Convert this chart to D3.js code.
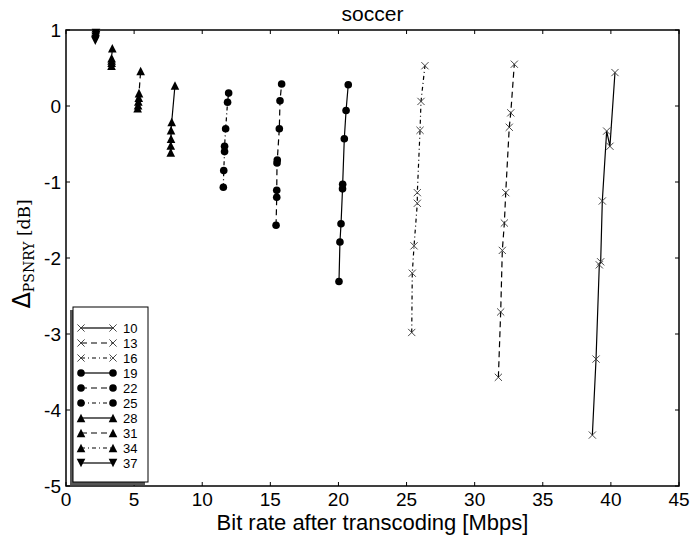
<!DOCTYPE html>
<html>
<head>
<meta charset="utf-8">
<script src="https://cdn.jsdelivr.net/npm/d3@7"></script>
<style>
  body { margin: 0; background: #fff; }
  svg { display: block; font-family: "Liberation Sans", Arial, sans-serif; }
</style>
</head>
<body>
<svg id="chart" width="692" height="540"></svg>
<script>
// QP values shown in the legend
const qps = [10, 13, 16, 19, 22, 25, 28, 31, 34, 37];

// bit rate [Mbps] and delta PSNR-Y [dB] per QP
const rate10 = [38.64, 38.91, 39.15, 39.25, 39.37, 39.69, 39.93, 40.30];
const dpsnr10 = [-4.33, -3.33, -2.09, -2.05, -1.25, -0.33, -0.53, 0.44];
const rate13 = [31.74, 31.91, 32.03, 32.18, 32.28, 32.54, 32.65, 32.91];
const dpsnr13 = [-3.57, -2.71, -1.90, -1.54, -1.14, -0.28, -0.09, 0.55];
const rate16 = [25.38, 25.42, 25.55, 25.79, 25.79, 25.99, 26.06, 26.35];
const dpsnr16 = [-2.98, -2.20, -1.84, -1.28, -1.14, -0.32, 0.06, 0.53];
const rate19 = [20.04, 20.11, 20.19, 20.30, 20.31, 20.43, 20.56, 20.72];
const dpsnr19 = [-2.31, -1.79, -1.55, -1.09, -1.03, -0.43, -0.06, 0.28];
const rate22 = [15.42, 15.47, 15.47, 15.49, 15.51, 15.66, 15.71, 15.83];
const dpsnr22 = [-1.57, -1.20, -1.11, -0.75, -0.71, -0.30, 0.07, 0.29];
const rate25 = [11.55, 11.58, 11.64, 11.64, 11.72, 11.86, 11.94];
const dpsnr25 = [-1.07, -0.85, -0.60, -0.53, -0.30, 0.05, 0.17];
const rate28 = [7.69, 7.69, 7.71, 7.71, 7.76, 8.00];
const dpsnr28 = [-0.61, -0.52, -0.43, -0.32, -0.21, 0.27];
const rate31 = [5.26, 5.29, 5.31, 5.34, 5.36, 5.48];
const dpsnr31 = [-0.03, 0.01, 0.06, 0.11, 0.17, 0.46];
const rate34 = [3.34, 3.35, 3.35, 3.35, 3.40];
const dpsnr34 = [0.53, 0.57, 0.60, 0.63, 0.76];
const rate37 = [2.15, 2.17, 2.18, 2.20, 2.20];
const dpsnr37 = [0.86, 0.88, 0.91, 0.93, 0.96];

const xTicks = [0, 5, 10, 15, 20, 25, 30, 35, 40, 45];
const yTicks = [-5, -4, -3, -2, -1, 0, 1];

const rates = [rate10, rate13, rate16, rate19, rate22, rate25, rate28, rate31, rate34, rate37];
const dpsnrs = [dpsnr10, dpsnr13, dpsnr16, dpsnr19, dpsnr22, dpsnr25, dpsnr28, dpsnr31, dpsnr34, dpsnr37];

// marker + line style per series (matplotlib style cycle of the figure)
const markerOf = ["x", "x", "x", "o", "o", "o", "^", "^", "^", "v"];
const dashOf = [null, "6,4", "4,3,1,3", null, "6,4", "4,3,1,3", null, "6,4", "4,3,1,3", null];

let series = qps.map(function (q, i) {
    return {
        name: q,
        marker: markerOf[i],
        dash: dashOf[i],
        points: rates[i].map(function (r, j) { return [r, dpsnrs[i][j]]; })
    };
});

let margin = {left: 66, top: 30, right: 13, bottom: 54};
let width = 692 - margin.left - margin.right;
let height = 540 - margin.top - margin.bottom;

let svg = d3.select("#chart");
let g = svg.append("g").attr("transform", `translate(${margin.left},${margin.top})`);

let x = d3.scaleLinear().domain([0, 45]).range([0, width]);
let y = d3.scaleLinear().domain([-5, 1]).range([height, 0]);

// draw a marker glyph at (0,0) inside the given selection
function drawMarker(sel, type) {
    if (type === "x") {
        let s = 3.6;
        sel.append("path")
            .attr("d", `M${-s},${-s}L${s},${s}M${-s},${s}L${s},${-s}`)
            .attr("stroke", "#333")
            .attr("stroke-width", 0.9)
            .attr("fill", "none");
    } else if (type === "o") {
        sel.append("circle").attr("r", 3.8).attr("fill", "#000");
    } else {
        let s = 4.3;
        let d = type === "^"
            ? `M0,${-s}L${s},${s}L${-s},${s}Z`
            : `M0,${s}L${s},${-s}L${-s},${-s}Z`;
        sel.append("path").attr("d", d).attr("fill", "#000");
    }
}

// lines
let line = d3.line()
    .x(function (d) { return x(d[0]); })
    .y(function (d) { return y(d[1]); });

g.selectAll(".series-line")
    .data(series)
    .join("path")
    .attr("class", "series-line")
    .attr("d", function (d) { return line(d.points); })
    .attr("fill", "none")
    .attr("stroke", "#000")
    .attr("stroke-width", 1.2)
    .attr("stroke-dasharray", function (d) { return d.dash; });

// markers
series.forEach(function (s) {
    g.append("g").selectAll("g")
        .data(s.points)
        .join("g")
        .attr("transform", function (d) { return `translate(${x(d[0])},${y(d[1])})`; })
        .each(function () { drawMarker(d3.select(this), s.marker); });
});

// frame
g.append("rect")
    .attr("width", width)
    .attr("height", height)
    .attr("fill", "none")
    .attr("stroke", "#000")
    .attr("stroke-width", 1.5);

// inward ticks on all four sides
let tickLen = 4;
xTicks.forEach(function (t) {
    g.append("line").attr("x1", x(t)).attr("x2", x(t)).attr("y1", height).attr("y2", height - tickLen)
        .attr("stroke", "#000");
    g.append("line").attr("x1", x(t)).attr("x2", x(t)).attr("y1", 0).attr("y2", tickLen)
        .attr("stroke", "#000");
    g.append("text")
        .attr("x", x(t))
        .attr("y", height + 20)
        .attr("text-anchor", "middle")
        .attr("font-size", 19)
        .text(t);
});
yTicks.forEach(function (t) {
    g.append("line").attr("x1", 0).attr("x2", tickLen).attr("y1", y(t)).attr("y2", y(t))
        .attr("stroke", "#000");
    g.append("line").attr("x1", width).attr("x2", width - tickLen).attr("y1", y(t)).attr("y2", y(t))
        .attr("stroke", "#000");
    g.append("text")
        .attr("x", -5)
        .attr("y", y(t) + 7)
        .attr("text-anchor", "end")
        .attr("font-size", 19)
        .text(t);
});

// title and axis labels
svg.append("text")
    .attr("x", margin.left + width / 2)
    .attr("y", 21)
    .attr("text-anchor", "middle")
    .attr("font-size", 21)
    .text("soccer");

svg.append("text")
    .attr("x", margin.left + width / 2)
    .attr("y", 530)
    .attr("text-anchor", "middle")
    .attr("font-size", 22)
    .text("Bit rate after transcoding [Mbps]");

let ylab = svg.append("text")
    .attr("transform", `translate(30,254) rotate(-90)`)
    .attr("text-anchor", "middle");
ylab.append("tspan").attr("font-size", 24).attr("font-family", "DejaVu Sans").text("Δ");
ylab.append("tspan").attr("font-size", 14).attr("font-family", "DejaVu Serif").attr("dy", 4).text("PSNRY");
ylab.append("tspan").attr("font-size", 17).attr("font-family", "DejaVu Serif").attr("dy", -4).text(" [dB]");

// legend with shadow
let lg = g.append("g").attr("transform", `translate(7,${height - 179})`);
lg.append("rect")
    .attr("x", -3).attr("y", 3)
    .attr("width", 75).attr("height", 175)
    .attr("fill", "#555");
lg.append("rect")
    .attr("width", 75).attr("height", 175)
    .attr("fill", "#fff")
    .attr("stroke", "#000")
    .attr("stroke-width", 1);

let rows = lg.selectAll(".entry")
    .data(series)
    .join("g")
    .attr("class", "entry")
    .attr("transform", function (d, i) { return `translate(0,${21 + i * 15})`; });

rows.append("line")
    .attr("x1", 8).attr("x2", 40)
    .attr("stroke", "#000")
    .attr("stroke-width", 1.2)
    .attr("stroke-dasharray", function (d) { return d.dash; });
rows.each(function (d) {
    let r = d3.select(this);
    drawMarker(r.append("g").attr("transform", "translate(8,0)"), d.marker);
    drawMarker(r.append("g").attr("transform", "translate(40,0)"), d.marker);
});
rows.append("text")
    .attr("x", 50)
    .attr("y", 5)
    .attr("font-size", 13)
    .text(function (d) { return d.name; });
</script>
</body>
</html>
